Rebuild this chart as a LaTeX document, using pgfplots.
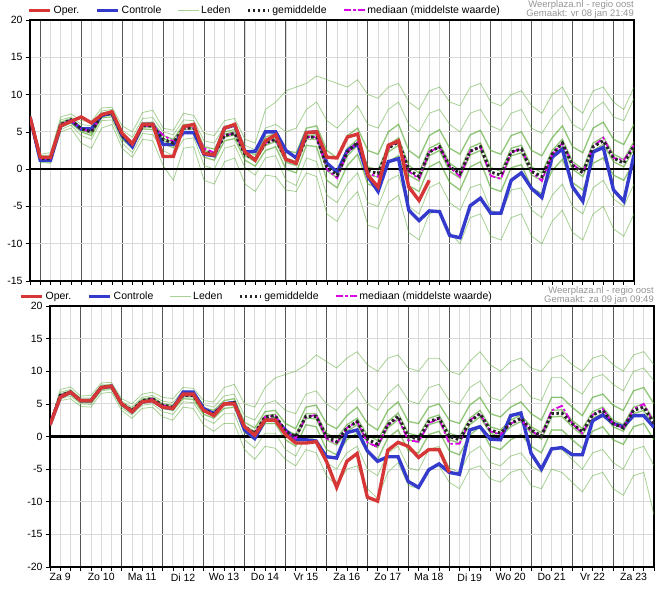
\documentclass[border=0pt]{standalone}
\usepackage{pgfplots}
\pgfplotsset{compat=1.18}
\usepackage{pgfplotstable}
\usepackage{fontspec}
\setmainfont{Liberation Sans}
\definecolor{oper}{RGB}{214,54,54}
\definecolor{ctrl}{RGB}{52,58,204}
\definecolor{leden}{RGB}{80,165,40}
\definecolor{mag}{RGB}{220,0,230}
\definecolor{dayline}{RGB}{85,85,85}
\definecolor{gridl}{RGB}{218,218,218}
\definecolor{credit}{RGB}{150,150,150}

\pgfplotstableread{
oper ctrl mean med m1 m2 m3 m4 m5 m6 m7 m8
7.0 7.0 7.0 7.0 7.2 7.1 7.0 7.0 6.9 6.9 6.8 7.0
1.6 1.2 1.4 1.4 2.0 1.8 1.6 1.4 1.3 1.2 1.0 0.9
1.6 1.2 1.4 1.4 2.2 1.9 1.6 1.5 1.3 1.1 0.9 0.8
5.8 5.8 6.0 6.0 7.0 6.6 6.3 6.0 5.9 5.6 5.3 5.0
6.4 6.5 6.6 6.6 7.4 7.0 6.8 6.6 6.5 6.2 5.9 5.5
7.0 5.4 5.4 5.4 6.5 6.0 5.6 5.4 5.2 5.0 4.5 3.5
6.2 5.4 5.0 5.0 6.4 5.8 5.3 5.0 4.8 4.5 4.0 2.8
7.3 7.2 7.3 7.3 8.2 7.8 7.5 7.3 7.1 6.9 6.5 5.5
7.7 7.5 7.5 7.5 8.3 8.0 7.7 7.5 7.3 7.0 6.6 6.0
4.8 4.5 4.5 4.8 5.8 5.2 4.8 4.5 4.3 4.0 3.5 2.8
3.4 3.0 3.3 3.3 5.0 4.3 3.6 3.4 3.1 2.8 2.2 1.6
6.0 6.0 5.8 5.8 7.6 6.8 6.2 5.9 5.7 5.4 4.8 4.0
6.0 6.0 5.8 5.8 7.9 6.9 6.3 5.9 5.6 5.3 4.6 3.8
1.7 3.3 4.0 4.6 5.5 5.0 4.5 4.1 3.8 3.4 2.5 0.5
1.7 3.3 3.5 3.7 5.2 4.6 4.0 3.6 3.3 2.9 1.8 -1.5
5.7 4.9 5.5 5.5 7.5 6.6 6.0 5.6 5.3 4.9 4.0 2.8
6.0 4.9 5.5 5.5 7.2 6.5 6.0 5.6 5.4 5.0 4.2 3.0
2.1 2.0 2.3 2.8 4.8 3.8 3.0 2.5 2.1 1.6 0.5 -1.5
1.9 1.8 2.0 2.2 4.5 3.5 2.7 2.2 1.8 1.2 0.0 -2.0
5.5 5.5 4.5 4.5 6.5 5.8 5.0 4.7 4.3 3.8 2.8 1.0
6.0 5.9 4.8 4.8 6.8 6.0 5.3 5.0 4.6 4.1 3.2 1.5
2.3 2.3 2.0 2.2 4.0 3.2 2.6 2.1 1.8 1.2 0.2 -2.0
1.2 2.4 1.3 1.3 3.5 2.6 1.9 1.4 1.0 0.4 -0.8 -3.0
3.8 5.0 3.5 3.5 8.0 5.5 4.3 3.7 3.2 2.5 1.5 -0.8
4.6 5.0 4.0 4.0 9.0 6.0 4.8 4.1 3.7 3.0 1.8 -1.0
1.3 2.5 1.3 1.3 10.5 5.0 2.5 1.5 0.9 0.0 -1.5 -2.8
0.8 1.5 0.8 0.8 11.0 5.5 2.2 1.0 0.5 -0.5 -2.2 -3.0
4.9 4.9 4.3 4.3 11.5 8.0 5.5 4.5 4.0 3.2 1.5 -0.5
5.0 5.0 4.3 4.3 12.5 9.0 5.8 4.6 4.0 3.0 1.0 -1.0
1.6 0.8 0.3 0.0 12.0 6.5 2.5 0.8 -0.2 -1.5 -3.5 -6.0
1.5 -0.4 -0.8 -1.2 11.5 5.5 1.5 -0.3 -1.2 -2.5 -4.5 -7.0
4.3 2.5 2.3 2.3 11.0 7.0 4.5 2.8 1.8 0.5 -2.0 -4.5
4.7 3.4 3.6 3.6 12.0 8.5 5.5 4.0 3.2 2.0 -0.5 -3.0
-0.8 -1.0 -0.2 -0.6 10.0 6.0 2.5 0.3 -0.7 -2.0 -4.5 -7.5
-2.4 -3.0 -0.6 -1.0 9.5 5.5 2.0 -0.1 -1.1 -2.5 -5.0 -8.0
3.2 1.0 2.8 2.8 11.0 8.0 5.0 3.2 2.3 1.0 -1.5 -4.5
3.8 1.4 3.7 3.7 11.5 9.0 6.0 4.2 3.2 1.8 -0.8 -3.5
-2.4 -5.5 -0.1 -0.3 9.0 6.0 2.5 0.5 -0.8 -2.2 -5.0 -8.5
-4.2 -6.9 -1.0 -1.3 8.0 5.0 1.5 -0.5 -1.6 -3.0 -6.0 -9.5
-1.5 -5.6 2.3 2.3 10.5 7.5 4.5 2.8 1.8 0.3 -2.5 -6.0
nan -5.7 3.0 3.0 11.0 8.0 5.3 3.5 2.5 1.0 -1.8 -5.5
nan -8.9 0.3 0.3 9.0 6.0 2.8 0.8 -0.3 -1.8 -4.5 -8.5
nan -9.2 -0.6 -1.0 8.5 5.0 2.0 -0.2 -1.2 -2.8 -5.5 -10.0
nan -4.9 2.4 2.4 11.0 7.5 4.6 2.9 1.9 0.3 -2.5 -6.5
nan -3.9 3.0 3.0 11.5 8.0 5.2 3.5 2.5 1.0 -2.0 -6.0
nan -5.9 -0.4 -0.9 9.0 5.8 2.5 0.2 -0.9 -2.5 -5.5 -9.0
nan -5.9 -0.8 -1.3 8.5 5.2 2.0 -0.3 -1.3 -3.0 -6.0 -9.5
nan -1.5 2.3 2.3 10.0 7.5 4.5 2.8 1.8 0.2 -2.8 -6.5
nan -0.5 2.7 2.7 10.5 8.0 5.0 3.2 2.2 0.6 -2.5 -6.0
nan -2.6 -0.3 -0.3 8.5 5.5 2.5 0.3 -0.8 -2.5 -5.5 -9.0
nan -3.8 -1.0 -1.6 7.5 4.8 1.8 -0.5 -1.5 -3.3 -6.5 -10.0
nan 1.6 2.0 2.0 10.0 7.0 4.2 2.5 1.5 -0.2 -3.5 -7.0
nan 2.7 3.5 3.5 11.0 8.5 5.8 4.0 3.0 1.3 -2.0 -5.5
nan -2.4 0.5 0.7 8.5 6.0 3.0 1.0 0.0 -1.8 -5.0 -8.5
nan -4.3 -0.5 -0.5 7.5 5.2 2.2 0.0 -1.0 -2.8 -6.0 -9.5
nan 2.3 3.0 3.0 10.5 8.0 5.5 3.5 2.5 0.8 -2.5 -6.0
nan 2.9 3.8 4.2 11.0 9.0 6.3 4.3 3.3 1.5 -1.5 -5.0
nan -2.8 1.5 1.5 9.0 7.0 4.0 2.0 1.0 -0.8 -4.0 -8.0
nan -4.3 0.8 1.2 8.0 6.5 3.3 1.3 0.3 -1.5 -5.0 -9.0
nan 1.9 3.2 3.2 11.0 9.5 6.0 3.7 2.7 1.0 -2.0 -6.0
}\toptab

\pgfplotstableread{
oper ctrl mean med m1 m2 m3 m4 m5 m6 m7 m8
1.8 1.8 1.8 1.8 2.0 1.9 1.9 1.8 1.8 1.7 1.7 1.6
6.0 6.0 6.3 6.3 7.2 6.8 6.5 6.3 6.2 6.0 5.8 5.5
6.8 6.8 6.8 6.8 7.6 7.2 7.0 6.8 6.7 6.5 6.2 5.8
5.5 5.5 5.5 5.5 6.2 5.9 5.7 5.5 5.4 5.2 5.0 4.6
5.5 5.5 5.5 5.5 6.3 5.9 5.7 5.5 5.4 5.2 4.9 4.5
7.5 7.5 7.5 7.5 8.2 7.9 7.7 7.5 7.4 7.2 7.0 6.6
7.7 7.7 7.7 7.7 8.3 8.0 7.8 7.7 7.6 7.4 7.2 6.8
5.0 5.0 5.0 5.0 5.8 5.4 5.2 5.0 4.9 4.7 4.4 4.0
3.8 3.8 4.0 4.0 5.0 4.5 4.2 4.0 3.9 3.6 3.3 2.8
5.3 5.3 5.5 5.5 6.5 6.0 5.7 5.5 5.4 5.1 4.8 4.3
5.5 5.5 5.8 5.8 6.8 6.3 6.0 5.8 5.7 5.4 5.0 4.5
4.5 4.5 4.8 4.8 6.0 5.4 5.0 4.8 4.6 4.3 3.8 3.0
4.3 4.3 4.5 4.5 5.8 5.2 4.8 4.5 4.3 4.0 3.4 2.5
6.5 6.8 6.3 6.3 7.5 7.0 6.6 6.3 6.1 5.8 5.3 4.5
6.5 6.8 6.3 6.3 7.4 6.9 6.6 6.3 6.1 5.7 5.2 4.3
4.0 4.3 4.0 4.0 5.5 4.9 4.4 4.1 3.8 3.4 2.8 1.8
3.2 3.5 3.5 3.5 5.3 4.5 4.0 3.6 3.3 2.8 2.0 0.8
5.0 5.0 5.0 5.0 7.5 6.2 5.5 5.1 4.8 4.3 3.5 2.0
5.0 5.2 5.2 5.2 8.0 6.5 5.8 5.3 5.0 4.5 3.5 2.0
1.5 1.0 1.5 1.5 5.0 3.2 2.2 1.7 1.2 0.6 -0.5 -2.0
0.2 -0.3 0.5 0.5 4.5 2.5 1.3 0.7 0.2 -0.5 -1.8 -3.5
2.5 2.5 3.0 3.0 7.5 5.0 3.8 3.2 2.7 2.0 0.5 -1.5
2.5 2.5 3.2 3.2 9.0 5.5 4.0 3.4 2.9 2.0 0.5 -1.8
0.3 1.0 0.8 0.8 9.5 4.0 2.0 1.0 0.5 -0.5 -2.0 -3.5
-1.0 -0.5 0.0 -0.3 10.0 3.5 1.2 0.3 -0.4 -1.5 -3.0 -4.5
-1.0 -0.5 3.1 3.0 11.0 6.5 4.5 3.5 2.8 1.8 0.0 -2.0
-0.8 -0.7 3.1 3.3 12.5 7.0 4.8 3.5 2.7 1.5 -0.5 -2.5
-3.8 -3.1 0.0 -0.3 11.5 5.0 2.0 0.5 -0.5 -2.0 -4.0 -6.0
-7.8 -3.3 -0.8 -1.0 10.5 4.0 1.2 -0.3 -1.3 -2.8 -5.0 -7.5
-3.8 0.6 1.3 1.3 12.0 6.0 3.2 1.8 0.8 -0.5 -2.5 -5.0
-2.6 1.0 2.3 2.3 13.0 7.5 4.5 2.8 1.8 0.5 -1.5 -4.5
-9.3 -2.2 -0.4 -0.9 11.0 5.0 2.0 0.2 -0.9 -2.5 -5.0 -8.0
-9.9 -3.8 -1.2 -1.6 10.0 4.0 1.0 -0.6 -1.7 -3.5 -6.0 -9.5
-2.1 -3.1 1.8 1.8 12.0 6.5 4.0 2.3 1.3 -0.2 -2.5 -5.5
-0.9 -3.1 3.1 2.8 12.5 8.0 5.3 3.6 2.6 1.0 -1.5 -4.0
-1.5 -6.9 0.0 -0.6 10.5 5.5 2.3 0.5 -0.5 -2.2 -4.8 -7.5
-3.2 -7.8 -0.4 -0.8 10.0 5.0 2.0 0.1 -0.9 -2.5 -5.2 -8.0
-2.0 -5.1 2.3 2.0 12.0 7.5 4.5 2.8 1.8 0.3 -2.0 -5.0
-2.0 -4.2 2.8 2.8 12.0 8.0 5.0 3.3 2.3 0.8 -1.5 -4.5
-5.5 -5.5 0.0 -1.1 10.0 5.5 2.5 0.5 -0.5 -2.2 -4.8 -7.0
nan -5.8 -0.5 -1.1 9.5 5.0 2.0 0.0 -1.0 -2.8 -5.5 -8.0
nan 1.0 2.3 2.5 11.5 7.5 4.8 2.8 1.8 0.2 -2.5 -5.0
nan 1.5 3.5 3.5 13.0 8.5 6.0 4.0 3.0 1.5 -1.5 -4.5
nan -0.4 1.0 0.8 11.0 6.0 3.5 1.5 0.5 -1.5 -4.0 -6.5
nan -0.5 0.5 0.3 10.0 5.5 3.0 1.0 0.0 -2.0 -4.5 -7.0
nan 3.2 2.0 2.0 11.5 7.0 4.5 2.5 1.5 -0.5 -3.0 -5.5
nan 3.6 2.8 2.6 12.0 8.0 5.3 3.3 2.3 0.3 -2.5 -5.0
nan -2.6 1.0 0.8 10.5 6.0 3.5 1.5 0.5 -1.5 -4.5 -7.5
nan -5.0 0.1 0.0 10.0 5.5 2.5 0.6 -0.4 -2.5 -5.5 -8.0
nan -1.9 3.5 4.0 12.0 9.0 6.0 4.0 3.0 1.0 -2.0 -5.0
nan -1.7 3.6 4.7 12.5 9.0 6.0 4.1 3.1 1.0 -2.0 -5.5
nan -2.8 2.0 2.0 11.0 7.5 4.5 2.5 1.5 -0.5 -3.5 -7.0
nan -2.8 0.7 0.5 10.0 6.5 3.2 1.2 0.2 -1.8 -5.0 -8.5
nan 2.4 3.3 3.3 12.0 9.0 6.0 3.8 2.8 0.8 -2.5 -6.0
nan 3.3 4.0 4.2 12.5 9.5 6.5 4.5 3.5 1.5 -2.0 -5.5
nan 2.0 2.0 2.0 11.0 8.0 4.8 2.5 1.5 -0.5 -4.0 -8.0
nan 1.5 1.3 1.3 10.0 7.0 4.0 1.8 0.8 -1.2 -5.0 -9.0
nan 3.2 4.0 4.2 12.5 10.0 7.0 4.5 3.5 1.5 -2.0 -6.0
nan 3.2 4.5 5.0 13.0 10.5 7.5 5.0 4.0 2.0 -1.5 -5.5
nan 1.4 2.0 2.0 11.0 8.5 5.0 2.5 1.5 -0.5 -4.5 -12.0
}\bottab

\pgfplotsset{
  wp/.style={
    scale only axis, width=604pt, height=261pt,
    xtick={0,24,...,360}, minor xtick={-6,0,...,360},
    xticklabels={},
    xmajorgrids, xminorgrids, yminorgrids,
    major grid style={dayline, line width=1pt},
    minor grid style={gridl, line width=0.8pt},
    tick align=outside, xtick pos=bottom, ytick pos=left,
    major tick length=4pt, minor tick length=4pt,
    tick style={black, line width=0.7pt},
    axis line style={black, line width=1.5pt},
    tick label style={font=\fontsize{10.5}{12}\selectfont},
    yticklabel style={/pgf/number format/assume math mode=true},
    unbounded coords=jump, clip=true,
    legend columns=5,
    legend style={draw=none, fill=none, anchor=south west,
      font=\fontsize{10.5}{12}\selectfont, inner sep=0pt,
      /tikz/every even column/.append style={column sep=14pt}},
    legend image code/.code={\draw[##1] (0pt,0pt) -- (21pt,0pt);},
    legend entries={Oper.,Controle,Leden,gemiddelde,mediaan (middelste waarde)},
  },
  member/.style={leden, line width=0.8pt, opacity=0.5, forget plot},
  operl/.style={oper, line width=3.4pt},
  ctrll/.style={ctrl, line width=3.4pt},
  meanl/.style={black!85, line width=3pt, dash pattern=on 2.5pt off 2.5pt},
  medl/.style={mag, line width=1.8pt, dash pattern=on 7pt off 2.5pt on 2.5pt off 2.5pt},
}

\begin{document}
\begin{tikzpicture}
\useasboundingbox (-30pt,-313pt) rectangle (641pt,281pt);
\begin{axis}[wp, name=top, xmin=-6, xmax=348, ymin=-15, ymax=20,
  ytick={-15,-10,...,20}, minor ytick={-15,-10,...,20},
  legend style={at={(rel axis cs:0,1)}, xshift=-3pt, yshift=3pt}]
\addlegendimage{operl}
\addlegendimage{ctrll}
\addlegendimage{leden, line width=0.8pt, opacity=0.5}
\addlegendimage{meanl}
\addlegendimage{medl}
\pgfplotsinvokeforeach{1,...,8}{
  \addplot[member] table[x expr=\coordindex*6-6, y=m#1]{\toptab};
}
\pgfplotsinvokeforeach{3,...,6}{
  \addplot[member, opacity=0.35, line width=1.6pt] table[x expr=\coordindex*6-6, y=m#1]{\toptab};
}
\addplot[black, line width=2.6pt, forget plot] coordinates {(-6,0) (360,0)};
\addplot[ctrll, forget plot] table[x expr=\coordindex*6-6, y=ctrl]{\toptab};
\addplot[medl, forget plot] table[x expr=\coordindex*6-6, y=med]{\toptab};
\addplot[meanl, forget plot] table[x expr=\coordindex*6-6, y=mean]{\toptab};
\addplot[operl, forget plot] table[x expr=\coordindex*6-6, y=oper]{\toptab};
\end{axis}
\node[anchor=south east, align=right, inner sep=0pt, text=credit, font=\fontsize{9.5}{9.5}\selectfont] at ([yshift=1pt]top.north east) {Weerplaza.nl - regio oost\\Gemaakt: vr 08 jan 21:49};

\begin{axis}[wp, name=bot, at={(20pt,-286pt)}, xmin=6, xmax=360, ymin=-20, ymax=20,
  ytick={-20,-15,...,20}, minor ytick={-20,-15,...,20},
  extra x ticks={12,36,...,348},
  extra x tick labels={Za 9,Zo 10,Ma 11,Di 12,Wo 13,Do 14,Vr 15,Za 16,Zo 17,Ma 18,Di 19,Wo 20,Do 21,Vr 22,Za 23},
  extra x tick style={grid=none, major tick length=0pt, xticklabel style={yshift=-3pt}},
  legend style={at={(rel axis cs:0,1)}, xshift=-31pt, yshift=3pt}]
\addlegendimage{operl}
\addlegendimage{ctrll}
\addlegendimage{leden, line width=0.8pt, opacity=0.5}
\addlegendimage{meanl}
\addlegendimage{medl}
\pgfplotsinvokeforeach{1,...,8}{
  \addplot[member] table[x expr=\coordindex*6+6, y=m#1]{\bottab};
}
\pgfplotsinvokeforeach{3,...,6}{
  \addplot[member, opacity=0.35, line width=1.6pt] table[x expr=\coordindex*6+6, y=m#1]{\bottab};
}
\addplot[black, line width=2.6pt, forget plot] coordinates {(-6,0) (360,0)};
\addplot[ctrll, forget plot] table[x expr=\coordindex*6+6, y=ctrl]{\bottab};
\addplot[medl, forget plot] table[x expr=\coordindex*6+6, y=med]{\bottab};
\addplot[meanl, forget plot] table[x expr=\coordindex*6+6, y=mean]{\bottab};
\addplot[operl, forget plot] table[x expr=\coordindex*6+6, y=oper]{\bottab};
\end{axis}
\node[anchor=south east, align=right, inner sep=0pt, text=credit, font=\fontsize{9.5}{9.5}\selectfont] at ([yshift=1pt]bot.north east) {Weerplaza.nl - regio oost\\Gemaakt: za 09 jan 09:49};
\end{tikzpicture}
\end{document}
